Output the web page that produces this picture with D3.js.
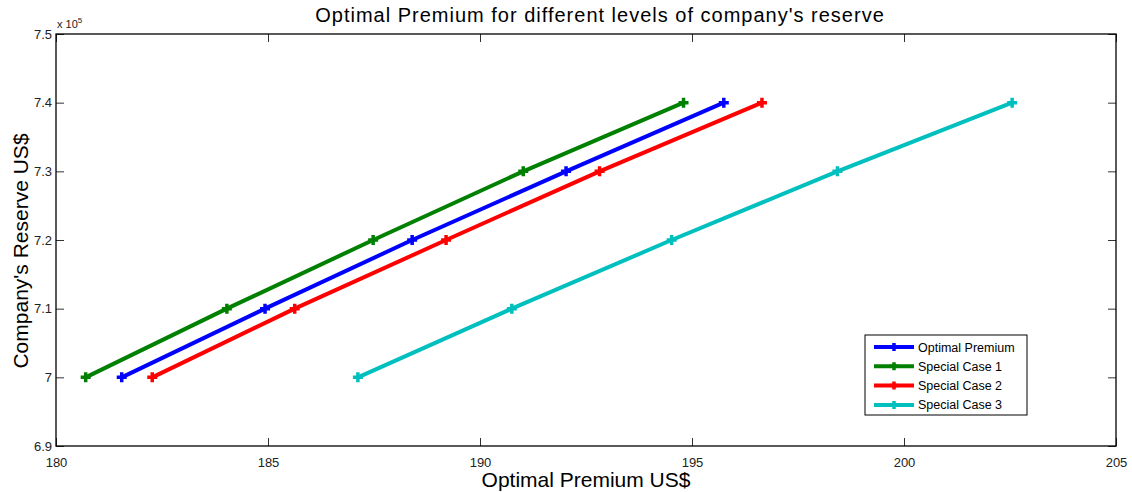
<!DOCTYPE html>
<html>
<head>
<meta charset="UTF-8">
<title>Optimal Premium</title>
<script src="https://d3js.org/d3.v7.min.js"></script>
<style>
  body { margin: 0; background: #fff; }
  text { font-family: Arial, "Liberation Sans", sans-serif; }
</style>
</head>
<body>
<svg id="chart" width="1132" height="492"></svg>
<script>
// data
const reserves = [700000, 710000, 720000, 730000, 740000];
const optimalPremium = [181.55, 184.93, 188.40, 192.03, 195.75];
const specialCase1 = [180.70, 184.03, 187.48, 191.02, 194.80];
const specialCase2 = [182.27, 185.63, 189.20, 192.82, 196.65];
const specialCase3 = [187.12, 190.75, 194.52, 198.43, 202.55];
const seriesNames = ["Optimal Premium", "Special Case 1", "Special Case 2", "Special Case 3"];
const seriesColors = ["#0000ff", "#008000", "#ff0000", "#00bfbf"];
const xTicks = [180, 185, 190, 195, 200, 205];
const yTicks = [6.9, 7.0, 7.1, 7.2, 7.3, 7.4, 7.5];

const allSeries = [optimalPremium, specialCase1, specialCase2, specialCase3];

let svg = d3.select("svg#chart");
let margin = { top: 34, right: 16, bottom: 46, left: 56 };
let width = +svg.attr("width");
let height = +svg.attr("height");
let chartWidth = width - margin.left - margin.right;
let chartHeight = height - margin.top - margin.bottom;

const xScale = d3.scaleLinear().domain([180, 205]).range([0, chartWidth]);
const yScale = d3.scaleLinear().domain([690000, 750000]).range([chartHeight, 0]);

let g = svg.append("g").attr("transform", `translate(${margin.left},${margin.top})`);

// axes, ticks inward like matlab
const fmtY = d => d3.format("~g")(d / 100000);
let bottomAxis = d3.axisBottom(xScale).tickValues(xTicks).tickSizeInner(-8).tickSizeOuter(0).tickPadding(12);
let topAxis = d3.axisTop(xScale).tickValues(xTicks).tickSizeInner(-8).tickSizeOuter(0).tickFormat("");
let leftAxis = d3.axisLeft(yScale).tickValues(yTicks.map(v => v * 100000)).tickSizeInner(-8).tickSizeOuter(0).tickPadding(4).tickFormat(fmtY);
let rightAxis = d3.axisRight(yScale).tickValues(yTicks.map(v => v * 100000)).tickSizeInner(-8).tickSizeOuter(0).tickFormat("");

g.append("g").attr("class", "x axis").attr("transform", `translate(0,${chartHeight})`).call(bottomAxis);
g.append("g").attr("class", "x axis top").call(topAxis);
g.append("g").attr("class", "y axis").call(leftAxis);
g.append("g").attr("class", "y axis right").attr("transform", `translate(${chartWidth},0)`).call(rightAxis);

g.selectAll(".axis path").remove();
g.selectAll(".axis").attr("font-size", null).attr("font-family", null);
g.selectAll(".axis line").attr("stroke", "#333").attr("stroke-width", 1);
g.selectAll(".axis text").style("font-size", "13px").attr("fill", "#222");

// box
g.append("rect").attr("x", 0).attr("y", 0).attr("width", chartWidth).attr("height", chartHeight)
  .attr("fill", "none").attr("stroke", "#000").attr("stroke-width", 1.3);

// exponent
svg.append("text").attr("x", margin.left + 1).attr("y", margin.top - 6)
  .attr("font-size", 11).attr("fill", "#222")
  .html('x 10<tspan dy="-5" font-size="8">5</tspan>');

// lines
const line = d3.line().x(d => xScale(d[0])).y(d => yScale(d[1]));

function plusPath(s) {
  return `M${-s},0H${s}M0,${-s}V${s}`;
}

allSeries.forEach((vals, i) => {
  const pts = vals.map((v, j) => [v, reserves[j]]);
  g.append("path").datum(pts)
    .attr("d", line)
    .attr("fill", "none")
    .attr("stroke", seriesColors[i])
    .attr("stroke-width", 4)
    .attr("stroke-linejoin", "round");
  g.selectAll(null).data(pts).join("path")
    .attr("transform", d => `translate(${xScale(d[0])},${yScale(d[1])})`)
    .attr("d", plusPath(5))
    .attr("stroke", seriesColors[i])
    .attr("stroke-width", 3.5)
    .attr("fill", "none");
});

// legend
let legend = svg.append("g").attr("transform", "translate(865,335)");
legend.append("rect").attr("x", 0).attr("y", 0).attr("width", 162).attr("height", 80)
  .attr("fill", "#fff").attr("stroke", "#000").attr("stroke-width", 1);
seriesNames.forEach((name, i) => {
  const y = 12 + i * 19.3;
  legend.append("line").attr("x1", 9).attr("x2", 49).attr("y1", y).attr("y2", y)
    .attr("stroke", seriesColors[i]).attr("stroke-width", 4);
  legend.append("path").attr("transform", `translate(29,${y})`).attr("d", plusPath(4))
    .attr("stroke", seriesColors[i]).attr("stroke-width", 3.5);
  legend.append("text").attr("x", 53).attr("y", y + 4.5)
    .attr("font-size", 12.5).attr("fill", "#000").text(name);
});

// title and labels
svg.append("text").attr("x", 600).attr("y", 22).attr("text-anchor", "middle")
  .attr("font-size", 20).attr("letter-spacing", 1).attr("fill", "#000")
  .text("Optimal Premium for different levels of company's reserve");
svg.append("text").attr("x", 586).attr("y", 487).attr("text-anchor", "middle")
  .attr("font-size", 21).attr("fill", "#000").text("Optimal Premium US$");
svg.append("text").attr("transform", "translate(28,251) rotate(-90)").attr("text-anchor", "middle")
  .attr("font-size", 21).attr("fill", "#000").text("Company's Reserve US$");
</script>
</body>
</html>
